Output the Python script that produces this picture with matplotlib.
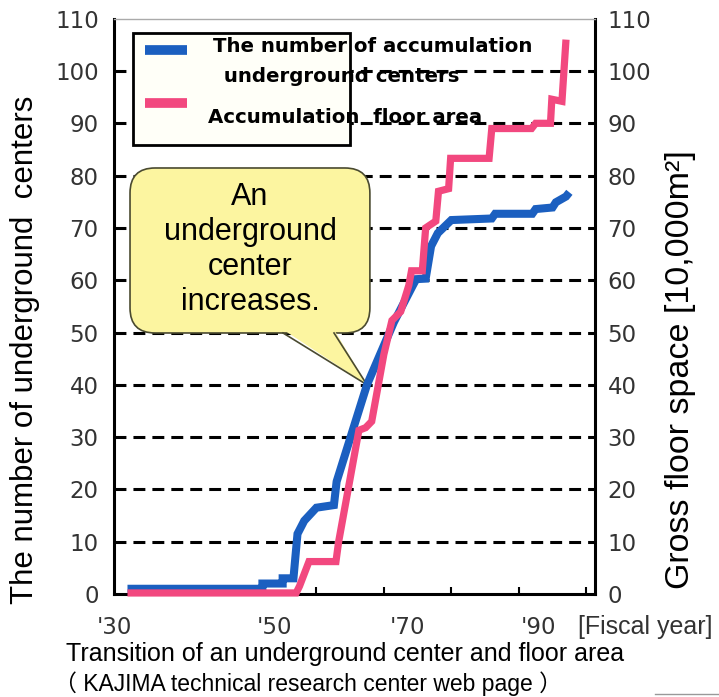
import matplotlib
matplotlib.use("Agg")
import matplotlib.pyplot as plt
import matplotlib.transforms as mtransforms
from matplotlib.patches import FancyBboxPatch, Polygon, Rectangle
from matplotlib.lines import Line2D

# Cumulative number of underground centres (left axis)
centers_year = [1932, 1952, 1952, 1955, 1955, 1956.6, 1957.2, 1958.2, 1960, 1962.6,
                1963, 1967.5, 1971.5, 1974.3, 1974.8, 1976.2, 1977, 1978, 1980, 1986,
                1986.5, 1992, 1992.5, 1995, 1995.5, 1997, 1997.5]
centers_count = [1, 1, 2, 2, 3, 3, 11.5, 14, 16.5, 17,
                 21.5, 40, 52, 59, 60.2, 60.3, 66.5, 69, 71.5, 71.8,
                 72.7, 72.7, 73.6, 73.9, 74.9, 76, 76.8]

# Cumulative floor area, 10,000 m2 (right axis)
area_year = [1932, 1957, 1957.5, 1958.9, 1962.9, 1963.3, 1966.3, 1967.3, 1968.2, 1970,
             1971.2, 1972.5, 1973.7, 1974.1, 1975.7, 1976.2, 1977.7, 1978.1, 1979.6, 1979.9,
             1985.6, 1986, 1991.9, 1992.5, 1994.7, 1994.9, 1996.4, 1997]
area_value = [0.2, 0.2, 1.5, 6.2, 6.2, 10, 31.3, 31.8, 33, 45.8,
              52.3, 54, 59, 61.8, 61.8, 70, 71.3, 77, 77.5, 83.3,
              83.3, 89, 89, 90, 90, 94.6, 94.2, 106]

y_ticks = list(range(0, 111, 10))
x_tick_years = [1940, 1950, 1960, 1970, 1980, 1990, 2000]
year_labels = ["'30", "'50", "'70", "'90"]
year_label_pos = [1930, 1953.8, 1973.5, 1992.9]

legend_labels = ["The number of accumulation", " underground centers", "Accumulation  floor area"]
callout_text = "An\nunderground\ncenter\nincreases."
callout_tip = (1967.5, 40)

BLUE = "#1b5fc0"
PINK = "#f2487f"
TICK_COLOR = "#333333"
SANS = ["Liberation Sans", "DejaVu Sans"]
CAPTION = ["Liberation Sans", "Noto Sans CJK JP"]

fig = plt.figure(figsize=(7.19, 6.97), dpi=100)
ax = fig.add_axes([114 / 719, 1 - 594 / 697, 481 / 719, 575.3 / 697])
ax.set_xlim(1930, 2001.3)
ax.set_ylim(0, 110)
ax2 = ax.twinx()
ax2.set_ylim(0, 110)

# dashed horizontal guides
for v in y_ticks[1:-1]:
    ax.axhline(v, color="black", lw=2.2, dashes=(3.9, 2.3), zorder=1)

ax.plot(centers_year, centers_count, color=BLUE, lw=5.8, solid_joinstyle="miter",
        solid_capstyle="butt", clip_on=False, zorder=3)
ax2.plot(area_year, area_value, color=PINK, lw=5.2, solid_joinstyle="miter",
         solid_capstyle="butt", clip_on=False, zorder=3)

# spines
for s in ["left", "bottom", "right"]:
    ax.spines[s].set_linewidth(2.2)
    ax.spines[s].set_color("black")
ax.spines["top"].set_color("#aaaaaa")
ax.spines["top"].set_linewidth(1.0)
for s in ax2.spines.values():
    s.set_visible(False)

# ticks
ax.set_xticks(x_tick_years)
ax.set_xticklabels([])
ax.tick_params(axis="x", direction="in", length=5, width=1.5, color="black")
ax.set_yticks(y_ticks)
ax.tick_params(axis="y", length=0, pad=11, labelsize=16.5, labelcolor=TICK_COLOR)
ax2.set_yticks(y_ticks)
ax2.tick_params(axis="y", length=0, pad=9, labelsize=16.5, labelcolor=TICK_COLOR)

blend = mtransforms.blended_transform_factory(ax.transData, ax.transAxes)
for t, x in zip(year_labels, year_label_pos):
    ax.text(x, -0.058, t, transform=blend, ha="center", va="center",
            fontsize=16.5, color=TICK_COLOR)
ax.text(0.965, -0.058, "[Fiscal year]", transform=ax.transAxes, ha="left",
        va="center", fontsize=18, color=TICK_COLOR, family=SANS)

# axis titles
fig.text(25 / 719, 1 - 350 / 697, "The number of underground  centers", rotation=90,
         ha="center", va="center", fontsize=22.5, family=SANS)
fig.text(680 / 719, 1 - 370 / 697, "Gross floor space [10,000m\u00b2]", rotation=90,
         ha="center", va="center", fontsize=24.5, family=SANS)

# legend box
ax.add_patch(Rectangle((0.0395, 0.780), 0.4511, 0.195, transform=ax.transAxes,
                       facecolor="#fffff8", edgecolor="black", lw=2, zorder=5))
ax.add_line(Line2D([0.0644, 0.1518], [0.9456, 0.9456], transform=ax.transAxes,
                   color=BLUE, lw=7, solid_capstyle="butt", zorder=6))
ax.add_line(Line2D([0.0644, 0.1518], [0.8535, 0.8535], transform=ax.transAxes,
                   color=PINK, lw=7, solid_capstyle="butt", zorder=6))
legend_pos = [(0.206, 0.951), (0.2141, 0.8987), (0.1954, 0.829)]
for txt, (x, y) in zip(legend_labels, legend_pos):
    ax.text(x, y, txt, transform=ax.transAxes, ha="left", va="center",
            fontsize=14.2, fontweight="bold", family="DejaVu Sans", zorder=7)

# speech-bubble callout
x0, x1, y0, y1 = 0.0333, 0.532, 0.4537, 0.7405
bubble = FancyBboxPatch((x0, y0), x1 - x0, y1 - y0, transform=ax.transAxes,
                        boxstyle="round,pad=0,rounding_size=0.052",
                        mutation_aspect=481 / 575.3,
                        facecolor="#fcf5a0", edgecolor="#4a4a30", lw=1.2, zorder=2.5)
ax.add_patch(bubble)
tip = ax.transAxes.inverted().transform(ax.transData.transform(callout_tip))
bl, br = (0.3514, y0), (0.4574, y0)
ax.add_patch(Polygon([(bl[0], y0 + 0.006), (br[0], y0 + 0.006), tuple(tip)],
                     closed=True, transform=ax.transAxes, facecolor="#fcf5a0",
                     edgecolor="none", zorder=2.6))
for b in (bl, br):
    ax.add_line(Line2D([b[0], tip[0]], [b[1], tip[1]], transform=ax.transAxes,
                       color="#4a4a30", lw=1.2, zorder=2.7))
ax.text(0.283, 0.5986, callout_text, transform=ax.transAxes, ha="center", va="center",
        fontsize=22, linespacing=1.22, family=SANS, zorder=2.8)

# caption
fig.text(345 / 719, 1 - 654 / 697, "Transition of an underground center and floor area",
         ha="center", va="center", fontsize=18, family=CAPTION)
fig.text(308 / 719, 1 - 684 / 697, "\uff08 KAJIMA technical research center web page \uff09",
         ha="center", va="center", fontsize=16.5, family=CAPTION)
fig.add_artist(Line2D([655 / 719, 1.0], [1 - 694 / 697] * 2, color="#999999", lw=1,
                      transform=fig.transFigure))

fig.savefig("out.png", dpi=100)
